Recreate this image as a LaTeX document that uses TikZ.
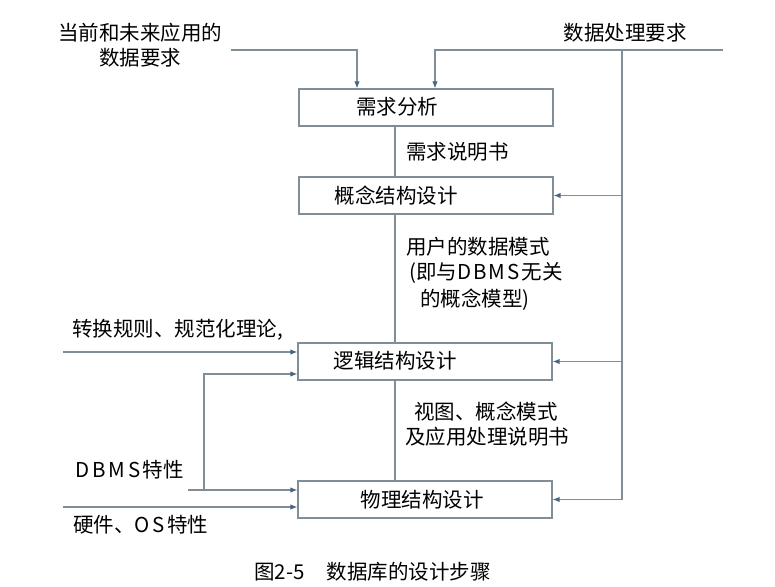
\documentclass[tikz,border=0pt]{standalone}
\usepackage{fontspec}
\setmainfont{Noto Sans CJK SC}
\usetikzlibrary{arrows.meta}
\definecolor{linec}{RGB}{128,142,152}
\definecolor{tipc}{RGB}{72,100,128}
\begin{document}
\begin{tikzpicture}[x=1pt,y=-1pt,
  every node/.style={font=\fontsize{20.5}{25}\selectfont, inner sep=0pt},
  stagebox/.style={draw=linec, line width=1.2pt, minimum width=254pt, minimum height=37pt},
  conn/.style={draw=linec, line width=1.3pt},
  arr/.style={conn, -{Latex[length=7pt,width=5.5pt,color=tipc]}},
  lbl/.style={anchor=west}]
\useasboundingbox[fill=white] (0,0) rectangle (775,586);

% stage boxes
\node[stagebox] (b1) at (426,107.5) {};
\node[stagebox] (b2) at (426,195.5) {};
\node[stagebox] (b3) at (425,361.5) {};
\node[stagebox] (b4) at (425,499.5) {};

\node (t1) at (397,107) {需求分析};
\node (t2) at (396,196) {概念结构设计};
\node (t3) at (395,361) {逻辑结构设计};
\node (t4) at (422,500) {物理结构设计};

% outside texts
\node[align=center] (in1) at (140,45) {当前和未来应用的\\数据要求};
\node (in2) at (625,33) {数据处理要求};
\node[lbl] (o1) at (406,152) {需求说明书};
\node[lbl] (o2a) at (406,247) {用户的数据模式};
\node[lbl] (o2b) at (409,273) {(即与D\kern2pt B\kern2pt M\kern2pt S\kern2pt 无关};
\node[lbl] (o2c) at (420,300) {的概念模型)};
\node[lbl] (in3) at (72,330) {转换规则、规范化理论,};
\node[lbl] (o3a) at (414,412) {视图、概念模式};
\node[lbl] (o3b) at (405,437) {及应用处理说明书};
\node[lbl] (in4) at (75,470) {D\kern3pt B\kern3pt M\kern3pt S\kern2pt 特性};
\node[lbl] (in5) at (73,525) {硬件、O\kern3pt S\kern2pt 特性};
\node[lbl] (cap) at (254,572) {图2-5\hspace{22pt}数据库的设计步骤};

% connectors
\coordinate (tl) at (231,50);
\coordinate (tr) at (723,50);
\coordinate (bus) at (622,50);
\draw[arr] (tl) -| ([xshift=-69pt]b1.north);
\draw[arr] (tr) -| ([xshift=9pt]b1.north);
\draw[arr] (bus) |- (b4.east);
\draw[arr] (bus |- b2.east) -- (b2.east);
\draw[arr] (bus |- b3.east) -- (b3.east);

\coordinate (cx) at (395,0);
\draw[conn] (cx |- b1.south) -- (cx |- b2.north);
\draw[conn] (cx |- b2.south) -- (cx |- b3.north);
\draw[conn] (cx |- b3.south) -- (cx |- b4.north);

\coordinate (l1) at (63,352);
\draw[arr] (l1) -- (l1 -| b3.west);
\coordinate (l2) at (204,490);
\coordinate (j3) at (204,374);
\draw[arr] (l2) -- (j3) -- (j3 -| b3.west);
\coordinate (l3) at (188,490);
\draw[arr] (l3) -- (l3 -| b4.west);
\coordinate (l4) at (63,507);
\draw[arr] (l4) -- (l4 -| b4.west);
\end{tikzpicture}
\end{document}
